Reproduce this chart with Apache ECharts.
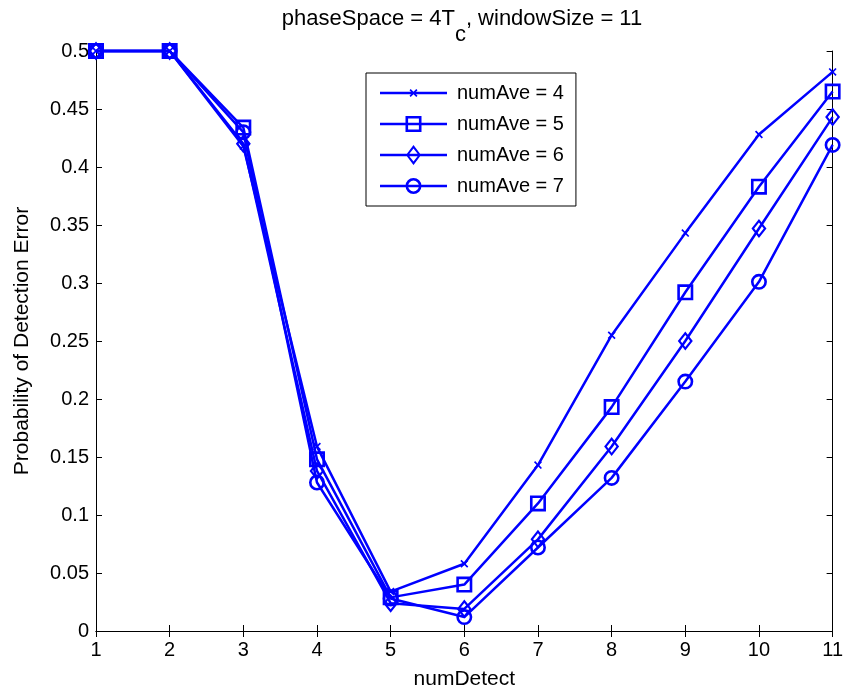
<!DOCTYPE html>
<html>
<head>
<meta charset="utf-8">
<script src="https://cdn.jsdelivr.net/npm/echarts@6/dist/echarts.min.js"></script>
<style>
    html, body { margin: 0; padding: 0; background: #fff; }
    #chart { width: 846px; height: 696px; }
</style>
</head>
<body>
<div id="chart"></div>
<script>
// 横轴 numDetect
var numDetect = [1, 2, 3, 4, 5, 6, 7, 8, 9, 10, 11];
// 各 numAve 的检测误差概率
var ave4 = [0.5, 0.5, 0.418, 0.159, 0.034, 0.058, 0.143, 0.255, 0.343, 0.428, 0.482];
var ave5 = [0.5, 0.5, 0.434, 0.148, 0.029, 0.040, 0.110, 0.193, 0.292, 0.383, 0.465];
var ave6 = [0.5, 0.5, 0.420, 0.138, 0.024, 0.019, 0.079, 0.159, 0.250, 0.347, 0.443];
var ave7 = [0.5, 0.5, 0.430, 0.128, 0.028, 0.012, 0.072, 0.132, 0.215, 0.301, 0.419];
var seriesNames = ['numAve = 4', 'numAve = 5', 'numAve = 6', 'numAve = 7'];

(function() {
    var font = "'Liberation Sans', Arial, sans-serif";
    var blue = '#0000ff';

    // 空心标记（带孔的路径）
    var xMark = 'path://M0,1.5L1.5,0L5,3.5L8.5,0L10,1.5L6.5,5L10,8.5L8.5,10L5,6.5L1.5,10L0,8.5L3.5,5Z';
    var sqMark = 'path://M0,0L16,0L16,16L0,16Z M2.6,2.6L2.6,13.4L13.4,13.4L13.4,2.6Z';
    var diaMark = 'path://M8,0L16,10L8,20L0,10Z M8,3.6L2.9,10L8,16.4L13.1,10Z';
    var cirMark = 'path://M0,8A8,8 0 1,1 16,8A8,8 0 1,1 0,8Z M2.6,8A5.4,5.4 0 1,0 13.4,8A5.4,5.4 0 1,0 2.6,8Z';

    // 图例图标：线段 + 标记
    var xIcon = 'path://M0,2.75L67,2.75L67,5.25L0,5.25Z M29.5,1.2L30.7,0L33.5,2.8L36.3,0L37.5,1.2L34.7,4L37.5,6.8L36.3,8L33.5,5.2L30.7,8L29.5,6.8L32.3,4Z';
    var sqIcon = 'path://M0,6.75L67,6.75L67,9.25L0,9.25Z M25.5,0L41.5,0L41.5,16L25.5,16Z M28.1,2.6L28.1,13.4L38.9,13.4L38.9,2.6Z';
    var diaIcon = 'path://M0,8.75L67,8.75L67,11.25L0,11.25Z M33.5,0L41,10L33.5,20L26,10Z M33.5,3.6L28.4,10L33.5,16.4L38.6,10Z';
    var cirIcon = 'path://M0,6.75L67,6.75L67,9.25L0,9.25Z M25.5,8A8,8 0 1,1 41.5,8A8,8 0 1,1 25.5,8Z M28.1,8A5.4,5.4 0 1,0 38.9,8A5.4,5.4 0 1,0 28.1,8Z';

    function pairs(vals) {
        return numDetect.map(function(x, i) { return [x, vals[i]]; });
    }

    function mkSeries(name, vals, symbol, size) {
        return {
            name: name,
            type: 'line',
            data: pairs(vals),
            symbol: symbol,
            symbolSize: size,
            showAllSymbol: true,
            lineStyle: { color: blue, width: 2.5 },
            itemStyle: { color: blue },
            emphasis: { disabled: true },
            clip: false
        };
    }

    var axisLine = { show: true, lineStyle: { color: '#000', width: 1 } };
    var axisTick = { show: true, inside: true, length: 6, lineStyle: { color: '#000' } };

    var myChart = echarts.init(document.getElementById('chart'));

    var option = {
        animation: false,
        textStyle: { fontFamily: font },
        title: {
            text: '{a|phaseSpace = 4T}{b|c}{a|, windowSize = 11}',
            left: 457,
            top: 3,
            textAlign: 'center',
            textStyle: {
                fontWeight: 'normal',
                rich: {
                    a: { fontSize: 22, fontFamily: font, fontWeight: 'normal', color: '#000', lineHeight: 24, verticalAlign: 'top' },
                    b: { fontSize: 22, fontFamily: font, fontWeight: 'normal', color: '#000', lineHeight: 24, padding: [16, 0, 0, 0], verticalAlign: 'top' }
                }
            }
        },
        legend: {
            orient: 'vertical',
            left: 366,
            top: 73,
            padding: [10, 12, 10, 14],
            itemWidth: 67,
            itemHeight: 20,
            itemGap: 11,
            borderColor: '#000',
            borderWidth: 1,
            backgroundColor: '#fff',
            selectedMode: false,
            symbolKeepAspect: true,
            itemStyle: { color: blue, borderWidth: 0 },
            textStyle: { fontSize: 20, color: '#000', fontFamily: font, padding: [0, 0, 0, 5] },
            data: [
                { name: seriesNames[0], icon: xIcon },
                { name: seriesNames[1], icon: sqIcon },
                { name: seriesNames[2], icon: diaIcon },
                { name: seriesNames[3], icon: cirIcon }
            ]
        },
        grid: { left: 96, right: 13, top: 51, bottom: 65 },
        xAxis: [
            {
                type: 'value', min: 1, max: 11, interval: 1, position: 'bottom',
                name: 'numDetect', nameLocation: 'middle', nameGap: 38,
                nameTextStyle: { fontSize: 21, color: '#000', fontFamily: font },
                axisLine: axisLine, axisTick: axisTick,
                axisLabel: { fontSize: 20, color: '#000', margin: 9, fontFamily: font },
                splitLine: { show: false }
            },
            {
                type: 'value', min: 1, max: 11, interval: 1, position: 'top',
                axisLine: axisLine, axisTick: axisTick,
                axisLabel: { show: false }, splitLine: { show: false }
            }
        ],
        yAxis: [
            {
                type: 'value', min: 0, max: 0.5, interval: 0.05, position: 'left',
                name: 'Probability of Detection Error', nameLocation: 'middle', nameGap: 63,
                nameTextStyle: { fontSize: 21, color: '#000', fontFamily: font },
                axisLine: axisLine, axisTick: axisTick,
                axisLabel: { fontSize: 20, color: '#000', margin: 7, fontFamily: font },
                splitLine: { show: false }
            },
            {
                type: 'value', min: 0, max: 0.5, interval: 0.05, position: 'right',
                axisLine: axisLine, axisTick: axisTick,
                axisLabel: { show: false }, splitLine: { show: false }
            }
        ],
        series: [
            mkSeries(seriesNames[0], ave4, xMark, 8),
            mkSeries(seriesNames[1], ave5, sqMark, 16),
            mkSeries(seriesNames[2], ave6, diaMark, [15, 19]),
            mkSeries(seriesNames[3], ave7, cirMark, 16)
        ]
    };

    myChart.setOption(option);

    window.addEventListener('resize', function() {
        myChart.resize();
    });
})();
</script>
</body>
</html>
